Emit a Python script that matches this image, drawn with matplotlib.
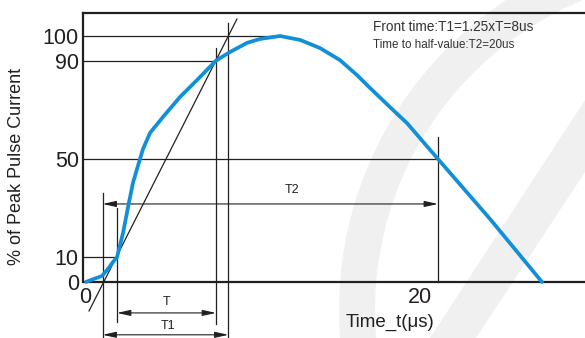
import matplotlib.pyplot as plt
from matplotlib.patches import Wedge, Polygon

plt.rcParams['font.family'] = ['Liberation Sans', 'DejaVu Sans']

# 8/20 us surge current waveform
time_us = [0.06, 0.6, 1.01, 1.37, 1.67, 1.91, 2.27, 2.57, 2.87, 3.16, 3.46,
           3.88, 4.66, 5.67, 6.69, 7.82, 8.66, 9.67, 10.45, 11.64, 12.84, 14.03,
           15.22, 16.24, 17.01, 18.39, 19.22, 21.07, 24.18, 27.28]
pulse_pct = [0, 1.4, 2.4, 5.3, 8.1, 10, 19.9, 30.5, 40.5, 47.2, 54.0,
             60.6, 67.1, 75.2, 82.1, 90, 93.5, 97.2, 98.8, 100, 98.4, 95.1,
             90.2, 84.1, 78.9, 69.9, 64.6, 50, 25.6, 0]

# reference levels and where each guide line stops
ref_levels = [100, 90, 50, 10]
ref_ends = [11.3, 7.82, 21.07, 1.91]

y_ticks = [0, 10, 50, 90, 100]
x_ticks = [0, 20]

# virtual origin, 10 %, 90 %, 100 % crossing of tangent, half value
t_o1, t_10, t_90, t_100, t_half = 1.05, 1.91, 7.82, 8.56, 21.07

tangent_t = [0.24, 9.07]
tangent_v = [-11.8, 106.9]

# vertical guides: time, top, bottom
guides = [(t_o1, 36.2, -23), (t_10, 30, -16.3), (t_90, 95.1, -17.1),
          (t_100, 105.3, -23), (t_half, 58.9, 0)]

# dimension arrows: start, end, level, label, label time, label level
dims = [(t_o1, t_half, 31.7, 'T2', 12.36, 37.2),
        (t_10, t_90, -12.6, 'T', 4.84, -8.1),
        (t_o1, t_100, -21.5, 'T1', 4.96, -17.9)]

ink = '#231f20'
blue = '#118fd8'

fig = plt.figure(figsize=(5.85, 3.38), dpi=100)

# faint watermark behind the chart
bg = fig.add_axes([0, 0, 1, 1], zorder=0)
bg.set_xlim(0, 585)
bg.set_ylim(338, 0)
bg.axis('off')
bg.add_patch(Wedge((710, 310), 371, 170, 275, width=36, color='#f0f0f0', lw=0))
bg.add_patch(Polygon([(430, 338), (476, 338), (585, 172), (585, 100)],
                     closed=True, color='#f0f0f0', lw=0))

ax = fig.add_axes([83 / 585, 0, 502 / 585, 325 / 338], zorder=1)
ax.patch.set_alpha(0)
ax.set_xlim(-0.12, 29.85)
ax.set_ylim(-22.8, 109.35)

for side in ['right', 'bottom']:
    ax.spines[side].set_visible(False)
ax.spines['top'].set_linewidth(1.6)
ax.spines['top'].set_color(ink)
ax.spines['left'].set_linewidth(1.6)
ax.spines['left'].set_color(ink)
ax.spines['left'].set_bounds(0, 109.35)

ax.axhline(0, color=ink, lw=1.6, zorder=3)

for lvl, end in zip(ref_levels, ref_ends):
    ax.plot([-0.12, end], [lvl, lvl], color=ink, lw=0.9, zorder=2)

for t, top, bot in guides:
    ax.plot([t, t], [bot, top], color=ink, lw=0.9, zorder=2)

ax.plot(tangent_t, tangent_v, color=ink, lw=0.9, zorder=2)

for start, end, lvl, label, lt, lv in dims:
    ax.annotate('', xy=(end, lvl), xytext=(start, lvl),
                arrowprops=dict(arrowstyle='<|-|>,head_length=0.9,head_width=0.2',
                                color=ink, lw=0.8, mutation_scale=9,
                                shrinkA=0, shrinkB=0), zorder=2)
    ax.text(lt, lv, label, ha='center', va='center', fontsize=9, color=ink)

ax.plot(time_us, pulse_pct, color=blue, lw=2.7, solid_capstyle='round',
        solid_joinstyle='round', zorder=4)

ax.set_yticks(y_ticks)
ax.set_yticklabels([str(v) for v in y_ticks])
ax.tick_params(axis='y', length=0, pad=3, labelsize=15.5, labelcolor=ink)
ax.set_xticks([])
for t in x_ticks:
    ax.text(t, -6.5, str(t), ha='center', va='center', fontsize=15.5, color=ink)

ax.text(18.2, -16.3, 'Time_t(\u03bcs)', ha='center', va='center', fontsize=13.5, color=ink)
fig.text(17 / 585, 1 - 166 / 338, '% of Peak Pulse Current', rotation=90,
         ha='center', va='center', fontsize=13, color=ink)

fig.text(373 / 585, 1 - 27 / 338, 'Front time:T1=1.25xT=8us',
         ha='left', va='center', fontsize=9.8, color='#333333')
fig.text(373 / 585, 1 - 45 / 338, 'Time to half-value:T2=20us',
         ha='left', va='center', fontsize=8.4, color='#333333')

plt.savefig('out.png', dpi=100)
plt.close()
